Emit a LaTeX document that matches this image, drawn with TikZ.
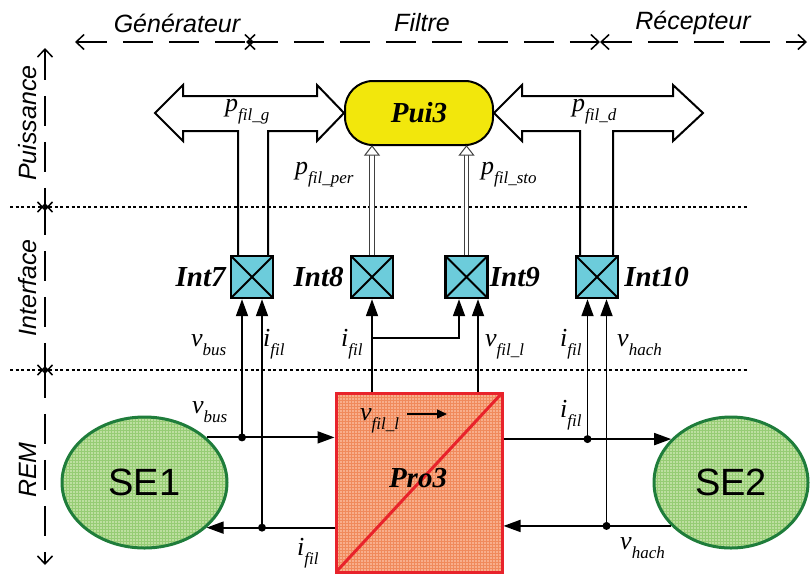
\documentclass[tikz,border=0pt]{standalone}
\usepackage{fontspec}
\setmainfont{Liberation Serif}
\setsansfont{Liberation Sans}
\usetikzlibrary{arrows.meta,positioning,shapes.geometric,patterns}
\definecolor{PuiYellow}{HTML}{F2E70C}
\definecolor{IntCyan}{HTML}{6CCCDB}
\definecolor{SeFill}{HTML}{BDDFA0}
\definecolor{SeGrid}{HTML}{96CC74}
\definecolor{SeBorder}{HTML}{1F7D3B}
\definecolor{ProFill}{HTML}{F8AE8C}
\definecolor{ProGrid}{HTML}{F08A5C}
\definecolor{ProRed}{HTML}{E8232B}
\newcommand{\sg}[2]{{\fontsize{26}{28}\selectfont\itshape #1\raisebox{-9pt}{\fontsize{17}{18}\selectfont #2}}}

\begin{document}
\begin{tikzpicture}[
  x=1pt,y=-1pt,
  secaxis/.style={line width=1.5pt,dash pattern=on 30pt off 16pt,{Straight Barb[length=8pt,width=15pt]}-{Straight Barb[length=8pt,width=15pt]}},
  sepline/.style={line width=1.3pt,dash pattern=on 3pt off 2.6pt},
  seclbl/.style={font=\sffamily\itshape\fontsize{25}{27}\selectfont},
  pui/.style={rectangle,rounded corners=28pt,draw,line width=2pt,fill=PuiYellow,minimum width=148pt,minimum height=64pt,font=\bfseries\itshape\fontsize{29}{31}\selectfont},
  intbox/.style={draw,line width=2.4pt,fill=IntCyan,minimum size=42pt,inner sep=0pt,
    path picture={\draw[line width=1.8pt] (path picture bounding box.south west) -- (path picture bounding box.north east) (path picture bounding box.north west) -- (path picture bounding box.south east);}},
  blocklbl/.style={font=\bfseries\itshape\fontsize{29}{31}\selectfont,inner sep=0pt},
  sebox/.style={ellipse,draw=SeBorder,line width=3pt,preaction={fill=SeFill},pattern=grid,pattern color=SeGrid,inner sep=0pt,minimum height=131pt,font=\sffamily\fontsize{38}{40}\selectfont},
  probox/.style={rectangle,draw=ProRed,line width=3pt,preaction={fill=ProFill},pattern=grid,pattern color=ProGrid,minimum width=166pt,minimum height=179pt,inner sep=0pt,
    path picture={\draw[ProRed,line width=3pt] (path picture bounding box.south west) -- (path picture bounding box.north east);}},
  sig/.style={line width=1.8pt,-{Triangle[length=17pt,width=12pt]}},
  jdot/.style={circle,fill,inner sep=0pt,minimum size=8pt},
  bigarrow/.style={line width=2pt,line join=miter},
  hollow/.style={draw=black!75,line width=1pt,double=white,double distance=3.5pt,shorten >=8pt},
  hollowtip/.style={draw=black!75,line width=1pt,fill=white,line join=miter}
]
\useasboundingbox (0,0) rectangle (810,574);

\draw[sepline] (10,207) -- (748,207);
\draw[sepline] (10,370) -- (748,370);

\draw[secaxis] (75,42) -- (254,42);
\draw[secaxis] (246,42) -- (600,42);
\draw[secaxis] (600,42) -- (807,42);
\node[seclbl] (gen) at (177,23) {Générateur};
\node[seclbl] (fil) at (422,23) {Filtre};
\node[seclbl] (rec) at (693,23) {Récepteur};

\draw[secaxis] (45,48) -- (45,211);
\draw[secaxis] (45,203) -- (45,374);
\draw[secaxis] (45,366) -- (45,565);
\node[seclbl,rotate=90] (pwr) at (28,123) {Puissance};
\node[seclbl,rotate=90] (itf) at (28,288) {Interface};
\node[seclbl,rotate=90] (rem) at (28,470) {REM};

\node[pui] (pui) at (419,113) {Pui3};
\node[intbox] (int7) at (252,277) {};
\node[intbox] (int8) at (372,277) {};
\node[intbox] (int9) at (466.5,277) {};
\node[intbox] (int10) at (597,277) {};
\node[blocklbl,left=4pt of int7] (int7lbl) {Int7};
\node[blocklbl,left=6pt of int8] (int8lbl) {Int8};
\node[blocklbl,right=1pt of int9] (int9lbl) {Int9};
\node[blocklbl,right=5pt of int10] (int10lbl) {Int10};

\node[probox] (pro) at (419,482.5) {};
\node[blocklbl] (prolbl) at (418,478) {Pro3};
\node[sebox,minimum width=165pt] (se1) at (144.5,482.5) {SE1};
\node[sebox,minimum width=154pt] (se2) at (731,482.5) {SE2};

\draw[bigarrow] (238,0 |- int7.north) -- (238,131) -- (183,131) -- (183,141) -- (155,113) -- (183,85) -- (183,96) -- (317,96) -- (317,85) -- (pui.west) -- (317,141) -- (317,131) -- (268,131) -- (268,0 |- int7.north);
\draw[bigarrow] (580,0 |- int10.north) -- (580,131) -- (522,131) -- (522,141) -- (pui.east) -- (522,85) -- (522,96) -- (673,96) -- (673,85) -- (703,113) -- (673,141) -- (673,131) -- (613,131) -- (613,0 |- int10.north);
\node[anchor=base west,inner sep=0pt] (pg) at (225,111) {\sg{p}{fil\_g}};
\node[anchor=base west,inner sep=0pt] (pd) at (572,111) {\sg{p}{fil\_d}};

\draw[hollow] (int8.north) -- (int8.north |- pui.south);
\draw[hollowtip] (int8.north |- pui.south) -- ++(-7,9) -- ++(14,0) -- cycle;
\draw[hollow] (int9.north) -- (int9.north |- pui.south);
\draw[hollowtip] (int9.north |- pui.south) -- ++(-7,9) -- ++(14,0) -- cycle;
\node[anchor=base west,inner sep=0pt] (pper) at (295,174) {\sg{p}{fil\_per}};
\node[anchor=base west,inner sep=0pt] (psto) at (481,174) {\sg{p}{fil\_sto}};

\draw[sig] (se1.36) -- (se1.36 -| pro.west);
\draw[sig] (se1.-36 -| pro.west) -- (se1.-36);
\draw[sig] (se2.144 -| pro.east) -- (se2.144);
\draw[sig] (se2.216) -- (se2.216 -| pro.east);

\draw[sig] ([xshift=-10pt]int7.south |- se1.36) -- ([xshift=-10pt]int7.south);
\draw[sig] ([xshift=10pt]int7.south |- se1.-36) -- ([xshift=10pt]int7.south);
\node[jdot] (j1) at ([xshift=-10pt]int7.south |- se1.36) {};
\node[jdot] (j2) at ([xshift=10pt]int7.south |- se1.-36) {};
\draw[sig] ([xshift=-9.5pt]int10.south |- se2.144) -- ([xshift=-9.5pt]int10.south);
\draw[sig] ([xshift=9.5pt]int10.south |- se2.216) -- ([xshift=9.5pt]int10.south);
\node[jdot] (j3) at ([xshift=-9.5pt]int10.south |- se2.144) {};
\node[jdot] (j4) at ([xshift=9.5pt]int10.south |- se2.216) {};

\draw[sig] (int8.south |- pro.north) -- (int8.south);
\draw[sig] ([yshift=-39pt]int8.south) -| ([xshift=-7.5pt]int9.south);
\draw[sig] ([xshift=11.5pt]int9.south |- pro.north) -- ([xshift=11.5pt]int9.south);

\node[anchor=base west,inner sep=0pt] (l1) at (191,346) {\sg{v}{bus}};
\node[anchor=base west,inner sep=0pt] (l2) at (263,346) {\sg{i}{fil}};
\node[anchor=base west,inner sep=0pt] (l3) at (341,346) {\sg{i}{fil}};
\node[anchor=base west,inner sep=0pt] (l4) at (485,346) {\sg{v}{fil\_l}};
\node[anchor=base west,inner sep=0pt] (l5) at (560,346) {\sg{i}{fil}};
\node[anchor=base west,inner sep=0pt] (l6) at (617,346) {\sg{v}{hach}};
\node[anchor=base west,inner sep=0pt] (l7) at (192,413) {\sg{v}{bus}};
\node[anchor=base west,inner sep=0pt] (l8) at (297,555) {\sg{i}{fil}};
\node[anchor=base west,inner sep=0pt] (l9) at (360,420) {\sg{v}{fil\_l}};
\node[anchor=base west,inner sep=0pt] (l10) at (560,417) {\sg{i}{fil}};
\node[anchor=base west,inner sep=0pt] (l11) at (620,549) {\sg{v}{hach}};

\coordinate (vfa) at (407,414);
\coordinate (vfb) at (447,414);
\draw[line width=1.5pt,-{Triangle[length=10pt,width=9pt]}] (vfa) -- (vfb);
\end{tikzpicture}
\end{document}
